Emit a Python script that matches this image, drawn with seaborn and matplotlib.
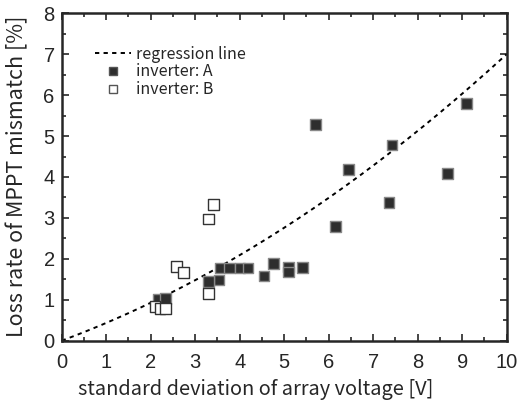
import numpy as np
import pandas as pd
import matplotlib
matplotlib.use("Agg")
import matplotlib.pyplot as plt
import seaborn as sns
from matplotlib.ticker import MultipleLocator

# Measured loss rate vs. array voltage spread
inv_a_x = [5.70, 9.10, 7.42, 6.45, 8.67, 7.36, 6.15, 4.76, 5.10, 5.10, 5.41, 4.55,
           3.56, 3.77, 4.01, 4.19, 3.54, 3.30, 2.18, 2.33]
inv_a_y = [5.28, 5.79, 4.78, 4.19, 4.09, 3.38, 2.79, 1.88, 1.80, 1.68, 1.79, 1.58,
           1.78, 1.78, 1.78, 1.78, 1.48, 1.44, 1.00, 1.03]
inv_b_x = [3.41, 3.30, 2.58, 2.74, 3.30, 2.10, 2.21, 2.33]
inv_b_y = [3.33, 2.97, 1.81, 1.66, 1.16, 0.83, 0.79, 0.79]

# Regression curve y = a*x + b*x^2
reg_a = 0.404
reg_b = 0.0296

x_ticks = list(range(0, 11))
y_ticks = list(range(0, 9))

sns.set_style("ticks")
plt.rcParams["font.family"] = ["Liberation Sans", "DejaVu Sans"]

df = pd.DataFrame({
    "sd": inv_a_x + inv_b_x,
    "loss": inv_a_y + inv_b_y,
    "inverter": ["inverter: A"] * len(inv_a_x) + ["inverter: B"] * len(inv_b_x),
})
xs = np.linspace(0, 10, 200)
reg = pd.DataFrame({"sd": xs, "loss": reg_a * xs + reg_b * xs ** 2})

fig = plt.figure(figsize=(5.17, 4.03), dpi=100)
ax = fig.add_axes([0.1193, 0.1546, 0.8607, 0.8124])

sns.lineplot(data=reg, x="sd", y="loss", ax=ax, color="black", lw=1.4,
             linestyle=(0, (2.2, 2.2)), label="regression line")
sns.scatterplot(data=df, x="sd", y="loss", hue="inverter", style="inverter",
                markers={"inverter: A": "s", "inverter: B": "s"},
                palette={"inverter: A": "#2e2e2e", "inverter: B": "white"},
                edgecolor="#555555", linewidth=1.0, s=58, ax=ax, zorder=3)
# light rim on filled squares, dark outline on open ones
ax.collections[-1].set_edgecolors(
    ["#888888"] * len(inv_a_x) + ["#333333"] * len(inv_b_x))

ax.set_xlim(0, 10)
ax.set_ylim(0, 8)
ax.set_xticks(x_ticks)
ax.set_yticks(y_ticks)
ax.xaxis.set_minor_locator(MultipleLocator(0.5))
ax.yaxis.set_minor_locator(MultipleLocator(0.5))
ax.tick_params(which="both", direction="in", top=True, right=True, width=1.2)
ax.tick_params(which="major", length=5, labelsize=14.5)
ax.tick_params(axis="x", which="major", pad=9)
ax.tick_params(axis="y", which="major", pad=5)
ax.tick_params(which="minor", length=3)
for sp in ax.spines.values():
    sp.set_linewidth(1.8)
    sp.set_visible(True)

lab_font = ["Noto Sans CJK JP", "DejaVu Sans"]
ax.set_xlabel("standard deviation of array voltage [V]", fontsize=14.4,
              family=lab_font)
ax.set_ylabel("Loss rate of MPPT mismatch [%]", fontsize=15.5,
              family=lab_font)
ax.xaxis.set_label_coords(0.436, -0.118)
ax.yaxis.set_label_coords(-0.076, 0.502)

handles, labels = ax.get_legend_handles_labels()
leg = ax.legend(handles, labels, loc="upper left", frameon=False,
                bbox_to_anchor=(0.042, 0.945), prop={"family": lab_font, "size": 11.5},
                handlelength=2.3, handletextpad=0.3, labelspacing=0.05, markerscale=0.75)

fig.savefig("out.png", dpi=100)
